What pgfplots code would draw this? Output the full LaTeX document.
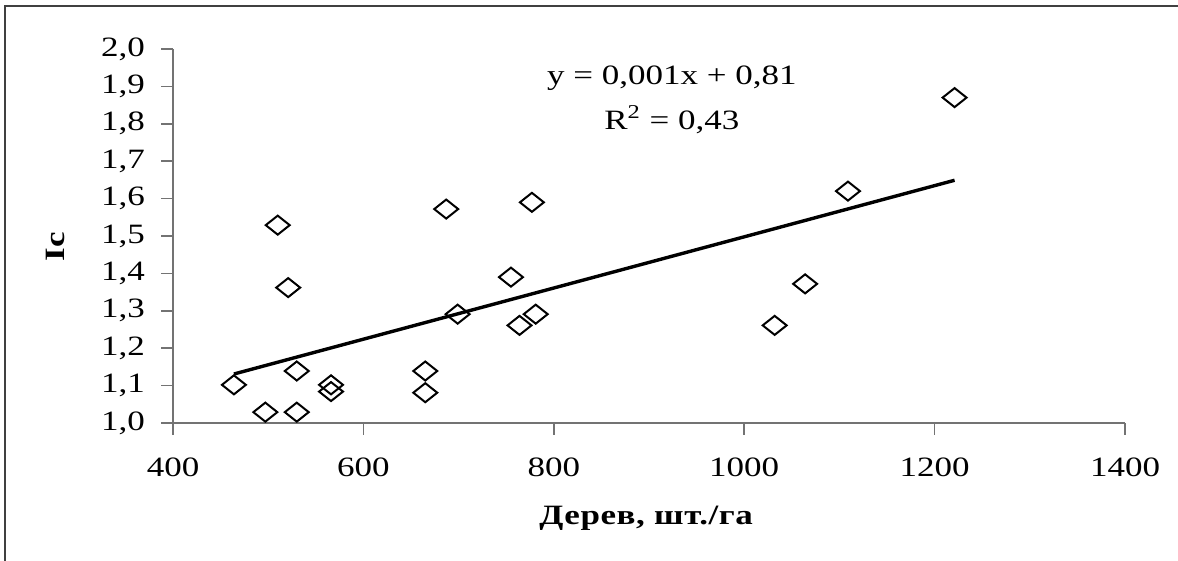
\documentclass[border=0pt]{standalone}
\usepackage{pgfplots}
\pgfplotsset{compat=1.18}
\usepackage{fontspec}
\setmainfont{Liberation Serif}[FakeStretch=1.25]

\begin{document}
\begin{tikzpicture}[x=1pt,y=1pt, font=\fontsize{14}{16}\selectfont]
\useasboundingbox (0,0) rectangle (589,280.5);
\draw[line width=1pt, black!75] (2.5,0) -- (2.5,277.5) -- (589,277.5);
\begin{axis}[
  at={(86.5pt,69pt)}, anchor=south west,
  scale only axis, width=476pt, height=187pt,
  xmin=400, xmax=1400, ymin=1, ymax=2,
  axis x line*=bottom, axis y line*=left,
  axis line style={black!55, line width=0.8pt},
  tick align=outside,
  xtick={400,600,800,1000,1200,1400},
  ytick={1.0,1.1,1.2,1.3,1.4,1.5,1.6,1.7,1.8,1.9,2.0},
  /pgf/number format/assume math mode=true,
  yticklabel style={xshift=-4.5pt, /pgf/number format/.cd, fixed, fixed zerofill, precision=1, use comma},
  xticklabel style={yshift=-8pt, /pgf/number format/1000 sep={}},
  tick style={black!55, line width=0.8pt},
  major tick length=6pt,
  clip=false,
  xlabel={\bfseries\addfontfeature{LetterSpace=2}Дерев, шт./га},
  ylabel={\bfseries Ic},
  xlabel style={at={(axis description cs:0.497,-0.254)}, anchor=center},
  ylabel style={at={(axis description cs:-0.123,0.471)}, anchor=center, rotate=0},
]
\addplot[black, line width=1.7pt, no marks] coordinates {(464,1.131) (1221,1.649)};
\addplot[only marks, mark=diamond, mark size=4.75pt, mark options={xscale=1.68, line width=1pt, draw=black, fill=none}] table {
x y
464 1.102
497 1.029
510 1.529
521 1.362
530 1.139
530 1.029
566 1.102
566 1.084
665 1.139
665 1.081
687 1.572
699 1.291
755 1.390
764 1.261
777 1.590
781 1.291
1032 1.261
1064 1.372
1109 1.620
1221 1.870
};
\node[anchor=base] at (axis description cs:0.524,0.904) {y = 0,001x + 0,81};
\node[anchor=base] at (axis description cs:0.524,0.786) {R\textsuperscript{2} = 0,43};
\end{axis}
\end{tikzpicture}
\end{document}
